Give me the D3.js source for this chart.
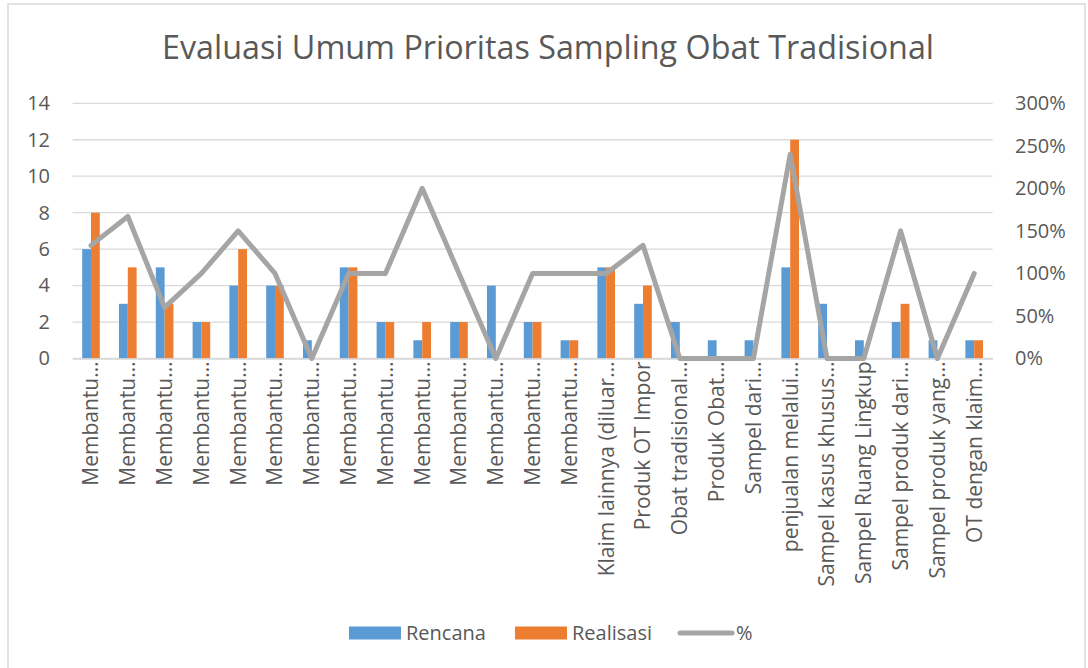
<!DOCTYPE html>
<html>
<head>
<meta charset="utf-8">
<script src="https://cdn.jsdelivr.net/npm/d3@7"></script>
<style>
  html, body { margin: 0; padding: 0; background: #fff; }
  svg { display: block; font-family: "Open Sans", sans-serif; }
</style>
</head>
<body>
<svg id="chart" width="1088" height="668"></svg>
<script>
const title = "Evaluasi Umum Prioritas Sampling Obat Tradisional";
const categories = [
  "Membantu…", "Membantu…", "Membantu…", "Membantu…", "Membantu…",
  "Membantu…", "Membantu…", "Membantu…", "Membantu…", "Membantu…",
  "Membantu…", "Membantu…", "Membantu…", "Membantu…",
  "Klaim lainnya (diluar…", "Produk OT Impor", "Obat tradisional…",
  "Produk Obat…", "Sampel dari…", "penjualan melalui…", "Sampel kasus khusus…",
  "Sampel Ruang Lingkup", "Sampel produk dari…", "Sampel produk yang…",
  "OT dengan klaim…"
];
const rencana   = [6, 3, 5, 2, 4, 4, 1, 5, 2, 1, 2, 4, 2, 1, 5, 3, 2, 1, 1, 5, 3, 1, 2, 1, 1];
const realisasi = [8, 5, 3, 2, 6, 4, 0, 5, 2, 2, 2, 0, 2, 1, 5, 4, 0, 0, 0, 12, 0, 0, 3, 0, 1];
const persen    = [133, 167, 60, 100, 150, 100, 0, 100, 100, 200, 100, 0, 100, 100, 100, 133, 0, 0, 0, 240, 0, 0, 150, 0, 100];
const leftTicks  = [0, 2, 4, 6, 8, 10, 12, 14];
const rightTicks = [0, 50, 100, 150, 200, 250, 300];
const seriesNames = ["Rencana", "Realisasi", "%"];
const colors = { Rencana: "#5b9bd5", Realisasi: "#ed7d31", "%": "#a5a5a5" };

const svg = d3.select("#chart");
const textColor = "#595959";
const gridColor = "#d9d9d9";

// outer border
svg.append("rect").attr("x", 8).attr("y", 4).attr("width", 1077).attr("height", 680)
  .attr("fill", "none").attr("stroke", gridColor).attr("stroke-width", 1.5);

const plot = { left: 72.6, right: 992.6, top: 103.3, bottom: 358.5 };

const x = d3.scaleBand().domain(d3.range(categories.length)).range([plot.left, plot.right]).paddingInner(0).paddingOuter(0);
const x1 = d3.scaleBand().domain(["Rencana", "Realisasi"]).range([0, x.bandwidth()]).paddingInner(0).paddingOuter(1.09);
const y = d3.scaleLinear().domain([0, 14]).range([plot.bottom, plot.top]);
const y2 = d3.scaleLinear().domain([0, 300]).range([plot.bottom, plot.top]);

// title
svg.append("text").attr("x", 548).attr("y", 59).attr("text-anchor", "middle")
  .attr("font-size", 32.3).attr("fill", textColor).text(title);

// gridlines
svg.append("g").selectAll("line").data(leftTicks).join("line")
  .attr("x1", plot.left).attr("x2", plot.right)
  .attr("y1", d => y(d)).attr("y2", d => y(d))
  .attr("stroke", gridColor).attr("stroke-width", 1.3);

// left axis
const leftAxis = d3.axisLeft(y).tickValues(leftTicks).tickSize(0).tickPadding(0);
const gL = svg.append("g").attr("transform", `translate(50,0)`).call(leftAxis);
gL.select(".domain").remove();
gL.selectAll("text").attr("font-size", 20).attr("fill", textColor).attr("font-family", "Open Sans, sans-serif");

// right axis
const rightAxis = d3.axisRight(y2).tickValues(rightTicks).tickFormat(d => d + "%").tickSize(0).tickPadding(0);
const gR = svg.append("g").attr("transform", `translate(1015,0)`).call(rightAxis);
gR.select(".domain").remove();
gR.selectAll("text").attr("font-size", 20).attr("fill", textColor).attr("font-family", "Open Sans, sans-serif");

// bars
const groups = svg.append("g").selectAll("g").data(categories.map((c, i) => i)).join("g")
  .attr("transform", i => `translate(${x(i)},0)`);
groups.selectAll("rect").data(i => [
    { key: "Rencana", v: rencana[i] },
    { key: "Realisasi", v: realisasi[i] }
  ]).join("rect")
  .attr("x", d => x1(d.key)).attr("width", x1.bandwidth())
  .attr("y", d => y(d.v)).attr("height", d => y(0) - y(d.v))
  .attr("fill", d => colors[d.key]);

// bottom axis
const bottomAxis = d3.axisBottom(x).tickFormat(i => categories[i]).tickSize(0).tickPadding(0);
const gB = svg.append("g").attr("transform", `translate(0,${plot.bottom})`).call(bottomAxis);
gB.select(".domain").attr("stroke", gridColor).attr("stroke-width", 1.3);
gB.selectAll("text")
  .attr("font-size", 21).attr("fill", textColor).attr("font-family", "Open Sans, sans-serif")
  .attr("text-anchor", "end")
  .attr("transform", "translate(0,3) rotate(-90)")
  .attr("x", 0).attr("y", 0).attr("dy", "0.35em");

// line
const line = d3.line().x((d, i) => x(i) + x.bandwidth() / 2).y(d => y2(d));
svg.append("path").datum(persen).attr("d", line)
  .attr("fill", "none").attr("stroke", colors["%"]).attr("stroke-width", 5)
  .attr("stroke-linejoin", "round").attr("stroke-linecap", "round");

// legend
const legend = svg.append("g");
const legItems = [
  { key: "Rencana", x: 349, type: "rect" },
  { key: "Realisasi", x: 515, type: "rect" },
  { key: "%", x: 678, type: "line" }
];
legItems.forEach(it => {
  if (it.type === "rect") {
    legend.append("rect").attr("x", it.x).attr("y", 626.5).attr("width", 52).attr("height", 13)
      .attr("fill", colors[it.key]);
  } else {
    legend.append("line").attr("x1", it.x + 2).attr("x2", it.x + 54).attr("y1", 633).attr("y2", 633)
      .attr("stroke", colors[it.key]).attr("stroke-width", 5).attr("stroke-linecap", "round");
  }
  legend.append("text").attr("x", it.x + (it.type === "rect" ? 57 : 58)).attr("y", 633).attr("dy", "0.35em")
    .attr("font-size", 20).attr("fill", textColor).text(it.key);
});
</script>
</body>
</html>
